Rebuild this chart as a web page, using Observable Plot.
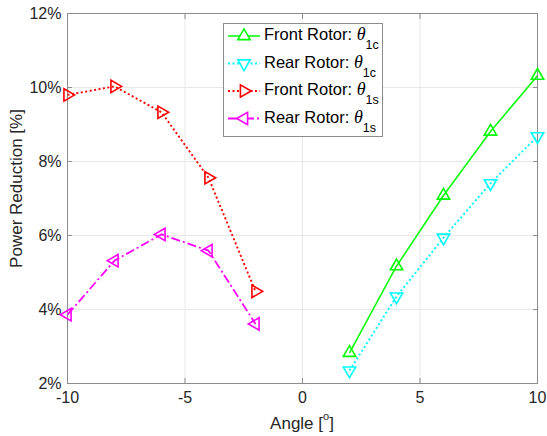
<!DOCTYPE html>
<html>
<head>
<meta charset="utf-8">
<script src="https://cdn.jsdelivr.net/npm/d3@7"></script>
<script src="https://cdn.jsdelivr.net/npm/@observablehq/plot@0.6"></script>
<style>
  html, body { margin: 0; padding: 0; background: #fff; }
  #chart svg { display: block; }
</style>
</head>
<body>
<div id="chart"></div>
<script>
// Swashplate angle sweep (degrees)
const anglesNeg = [-10, -8, -6, -4, -2];
const anglesPos = [2, 4, 6, 8, 10];

// Power reduction [%] per rotor and harmonic control input
const frontTheta1c = [2.83, 5.17, 7.08, 8.81, 10.32];
const rearTheta1c  = [2.35, 4.35, 5.94, 7.41, 8.68];
const frontTheta1s = [9.80, 10.03, 9.33, 7.56, 4.49];
const rearTheta1s  = [3.86, 5.32, 6.03, 5.59, 3.61];

// Axis ticks
const xTicks = [-10, -5, 0, 5, 10];
const yTicks = [2, 4, 6, 8, 10, 12];

// Series styling (MATLAB-like line specs)
const seriesDefs = [
  {rotor: "Front Rotor: ", sub: "1c", x: anglesPos, y: frontTheta1c, color: "#00ff00", dash: null,      width: 1.5, rotate: 0},
  {rotor: "Rear Rotor: ",  sub: "1c", x: anglesPos, y: rearTheta1c,  color: "#00ffff", dash: "2,2.5",   width: 1.9, rotate: 180},
  {rotor: "Front Rotor: ", sub: "1s", x: anglesNeg, y: frontTheta1s, color: "#ff0000", dash: "2,2.5",   width: 1.9, rotate: 90},
  {rotor: "Rear Rotor: ",  sub: "1s", x: anglesNeg, y: rearTheta1s,  color: "#ff00ff", dash: "9,3,2,3", width: 1.8, rotate: -90}
];

const rows = seriesDefs.map(s => s.x.map((x, i) => ({x, y: s.y[i]})));

const W = 547, H = 436;
const M = {top: 13, right: 10, bottom: 53, left: 67};
const frameColor = "#8c8c8c";
const gridColor = "#e8e8e8";

const lineMarks = seriesDefs.flatMap((s, k) => [
  Plot.line(rows[k], {x: "x", y: "y", stroke: s.color, strokeWidth: s.width,
    strokeDasharray: s.dash ?? undefined, strokeLinecap: "butt"}),
  Plot.dot(rows[k], {x: "x", y: "y", symbol: "triangle", r: 4.6, rotate: s.rotate,
    stroke: s.color, strokeWidth: 1.6, fill: "none"})
]);

const tickOnly = () => "";

const chart = Plot.plot({
  width: W,
  height: H,
  marginTop: M.top,
  marginRight: M.right,
  marginBottom: M.bottom,
  marginLeft: M.left,
  style: {fontFamily: "'Liberation Sans', Arial, sans-serif", fontSize: "16px", color: "#262626", background: "#fff"},
  x: {domain: [-10, 10]},
  y: {domain: [2, 12]},
  marks: [
    Plot.gridX(xTicks.slice(1, -1), {stroke: gridColor, strokeOpacity: 1}),
    Plot.gridY(yTicks.slice(1, -1), {stroke: gridColor, strokeOpacity: 1}),
    // inward tick marks on all four sides
    Plot.axisX({ticks: xTicks, anchor: "bottom", tickSize: 5, dy: -5, tickFormat: tickOnly, label: null, stroke: frameColor}),
    Plot.axisX({ticks: xTicks, anchor: "top", tickSize: 5, dy: 5, tickFormat: tickOnly, label: null, stroke: frameColor}),
    Plot.axisY({ticks: yTicks, anchor: "left", tickSize: 5, dx: 5, tickFormat: tickOnly, label: null, stroke: frameColor}),
    Plot.axisY({ticks: yTicks, anchor: "right", tickSize: 5, dx: -5, tickFormat: tickOnly, label: null, stroke: frameColor}),
    // tick labels (plain hyphen-minus, as in the original figure)
    Plot.axisX({ticks: xTicks, anchor: "bottom", tickSize: 0, tickPadding: 8, tickFormat: d => String(d), label: null, fill: "#262626"}),
    Plot.axisY({ticks: yTicks, anchor: "left", tickSize: 0, tickPadding: 6, tickFormat: d => d + "%", label: null, fill: "#262626"}),
    Plot.text(["Power Reduction [%]"], {frameAnchor: "left", rotate: -90, dx: -51, dy: -10,
      fontSize: 17, fill: "#262626", textAnchor: "middle"}),
    Plot.frame({stroke: frameColor}),
    ...lineMarks
  ]
});

const svg = d3.select(chart);

// x-axis label with superscript degree marker
const xl = svg.append("text")
  .attr("x", (M.left + W - M.right) / 2)
  .attr("y", 429)
  .attr("text-anchor", "middle")
  .attr("fill", "#262626")
  .style("font-size", "17px");
xl.append("tspan").text("Angle [");
xl.append("tspan").text("o").style("font-size", "11px").attr("dy", -9);
xl.append("tspan").text("]").attr("dy", 9);

// legend box
const lg = svg.append("g");
lg.append("rect")
  .attr("x", 223.5).attr("y", 23.5).attr("width", 159).attr("height", 113)
  .attr("fill", "#fff").attr("stroke", frameColor);

seriesDefs.forEach((s, i) => {
  const cy = 36 + i * 27.5;
  lg.append("line")
    .attr("x1", 228).attr("x2", 260).attr("y1", cy).attr("y2", cy)
    .attr("stroke", s.color).attr("stroke-width", s.width)
    .attr("stroke-dasharray", s.dash);
  lg.append("path")
    .attr("d", d3.symbol(d3.symbolTriangle, Math.PI * 4.6 * 4.6)())
    .attr("transform", `translate(244,${cy}) rotate(${s.rotate})`)
    .attr("fill", "#fff").attr("stroke", s.color).attr("stroke-width", 1.6);
  const t = lg.append("text")
    .attr("x", 264).attr("y", cy + 4)
    .attr("text-anchor", "start")
    .attr("fill", "#000")
    .style("font-size", "16.5px");
  t.append("tspan").text(s.rotor);
  t.append("tspan").text("θ")
    .style("font-family", "'Liberation Serif', 'Times New Roman', serif")
    .style("font-style", "italic").style("font-size", "18px");
  t.append("tspan").text(s.sub).style("font-size", "12.5px").attr("dy", 9);
});

document.getElementById("chart").appendChild(chart);
</script>
</body>
</html>
